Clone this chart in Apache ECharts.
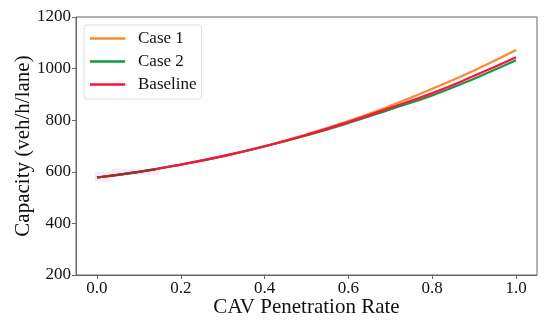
<!DOCTYPE html>
<html><head><meta charset="utf-8">
<script src="https://cdn.jsdelivr.net/npm/echarts@6/dist/echarts.min.js"></script>
<style>html,body{margin:0;padding:0;background:#fff}#c{width:550px;height:327px}</style>
</head><body><div id="c"></div>
<script>
const xs = [0, 0.1, 0.2, 0.3, 0.4, 0.5, 0.6, 0.7, 0.8, 0.9, 1.0];
const case1 = [578, 600, 628, 661, 700, 745, 797, 856, 922, 993, 1072];
const case2 = [578, 600, 628, 660, 698, 741, 789, 842, 896, 961, 1032];
const baseline = [578, 600, 628, 661, 699, 743, 793, 848, 905, 972, 1044];
const overlapX = [0, 0.07, 0.14];
const overlapY = [578, 593, 609];
const xTicks = [0, 0.2, 0.4, 0.6, 0.8, 1.0];
const yTicks = [200, 400, 600, 800, 1000, 1200];

const pair = (x, y) => x.map((v, i) => [v, y[i]]);
const font = 'Liberation Serif';
const chart = echarts.init(document.getElementById('c'), null, {renderer: 'canvas'});
chart.setOption({
  animation: false,
  backgroundColor: '#fff',
  grid: {left: 76, right: 13, top: 17, bottom: 52, outerBoundsMode: 'none', containLabel: false,
    show: true, borderColor: '#666', borderWidth: 1, backgroundColor: 'transparent'},
  xAxis: {
    type: 'value', min: -0.05, max: 1.05,
    name: 'CAV Penetration Rate', nameLocation: 'middle', nameGap: 22, nameMoveOverlap: false,
    nameTextStyle: {fontFamily: font, fontSize: 21, color: '#111'},
    axisLine: {show: true, onZero: false, lineStyle: {color: '#666'}},
    axisTick: {show: true, customValues: xTicks, length: 4, lineStyle: {color: '#666'}},
    axisLabel: {customValues: xTicks, fontFamily: font, fontSize: 17, color: '#111', margin: 5,
      formatter: v => v.toFixed(1)},
    splitLine: {show: false}
  },
  yAxis: {
    type: 'value', min: 200, max: 1200, interval: 200,
    name: 'Capacity (veh/h/lane)', nameLocation: 'middle', nameGap: 42, nameMoveOverlap: false,
    nameTextStyle: {fontFamily: font, fontSize: 21, color: '#111'},
    axisLine: {show: true, onZero: false, lineStyle: {color: '#666'}},
    axisTick: {show: true, customValues: yTicks, length: 4, lineStyle: {color: '#666'}},
    axisLabel: {customValues: yTicks, fontFamily: font, fontSize: 17, color: '#111', margin: 5,
      formatter: v => String(v)},
    splitLine: {show: false}
  },
  legend: {
    data: ['Case 1', 'Case 2', 'Baseline'],
    orient: 'vertical', left: 84, top: 25,
    backgroundColor: 'rgba(255,255,255,0.9)', borderColor: '#ddd', borderWidth: 1, borderRadius: 3,
    padding: [5, 5, 6, 6], itemGap: 6, itemWidth: 35, itemHeight: 2.5, icon: 'rect',
    textStyle: {fontFamily: font, fontSize: 17, color: '#111', padding: [0, 0, 0, 8]}
  },
  series: [
    {name: 'Case 1', type: 'line', smooth: true, symbol: 'none', data: pair(xs, case1),
     lineStyle: {width: 2.2, color: '#ff8a2e'}, itemStyle: {color: '#ff8a2e'}},
    {name: 'Case 2', type: 'line', smooth: true, symbol: 'none', data: pair(xs, case2),
     lineStyle: {width: 2.2, color: '#12993e'}, itemStyle: {color: '#12993e'}},
    {name: 'Baseline', type: 'line', smooth: true, symbol: 'none', data: pair(xs, baseline),
     lineStyle: {width: 2.2, color: '#ff1040'}, itemStyle: {color: '#ff1040'},
     markArea: {silent: true, itemStyle: {color: 'rgba(250,215,245,0.6)'},
       data: [[{coord: [-0.005, 560]}, {coord: [0.035, 600]}], [{coord: [0.035, 588]}, {coord: [0.15, 612]}]]}},
    {name: 'overlap', type: 'line', smooth: true, symbol: 'none', data: pair(overlapX, overlapY),
     lineStyle: {width: 2.2, color: '#8a3a2a'}, z: 5}
  ]
});
</script></body></html>
